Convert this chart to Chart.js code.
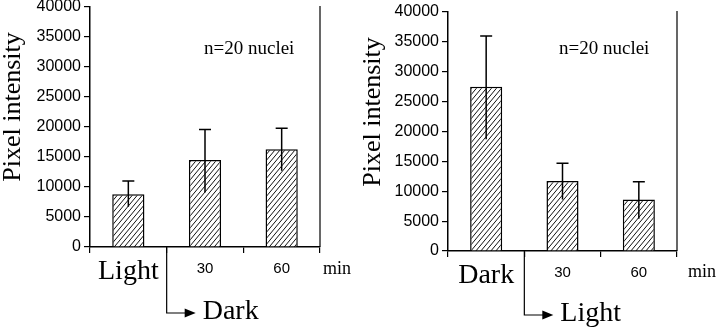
<!DOCTYPE html>
<html>
<head>
<meta charset="utf-8">
<script src="https://cdn.jsdelivr.net/npm/chart.js@4.4.0/dist/chart.umd.min.js"></script>
<style>
  html, body { margin: 0; padding: 0; background: #fff; }
  #wrap { position: relative; width: 720px; height: 331px; }
  .panel { position: absolute; top: 0; width: 360px; height: 331px; }
</style>
</head>
<body>
<div id="wrap">
  <div class="panel" style="left:0"><canvas id="leftChart" width="360" height="331"></canvas></div>
  <div class="panel" style="left:360px"><canvas id="rightChart" width="360" height="331"></canvas></div>
</div>
<script>
//
// Data
//

// Left panel: light, then transfer to dark
var leftLabels = ['Light', '30', '60'];
var leftValues = [8800, 14500, 16300];
var leftErrTop = [11000, 19600, 19800];
var leftErrBottom = [6700, 9100, 12700];
var leftArrowLabel = 'Dark';

// Right panel: dark, then transfer to light
var rightLabels = ['Dark', '30', '60'];
var rightValues = [27500, 11700, 8600];
var rightErrTop = [36000, 14700, 11600];
var rightErrBottom = [18700, 8600, 5400];
var rightArrowLabel = 'Light';

var yMin = 0;
var yMax = 40000;
var yStep = 5000;
var yTitle = 'Pixel intensity';
var noteText = 'n=20 nuclei';
var unitText = 'min';

var serif = '"Liberation Serif", "Times New Roman", serif';
var sans = '"Liberation Sans", Arial, sans-serif';


//
// Methods
//

/**
 * Diagonal hatch fill for the bars
 */
function makeHatch() {
    var c = document.createElement('canvas');
    c.width = 5;
    c.height = 6;
    var g = c.getContext('2d');
    g.fillStyle = '#fff';
    g.fillRect(0, 0, 5, 6);
    g.strokeStyle = '#111';
    g.lineWidth = 1;
    g.beginPath();
    [-5, 0, 5].forEach(function (dx) {
        g.moveTo(dx, 6);
        g.lineTo(dx + 5, 0);
    });
    g.stroke();
    return g.createPattern(c, 'repeat');
}


/**
 * Extra drawing: error bars, frame, titles, arrow
 */
function extrasPlugin(errTop, errBottom, arrowLabel, pos) {
    return {
        id: 'extras',
        afterDatasetsDraw: function (chart) {
            var ctx = chart.ctx;
            var area = chart.chartArea;
            var ys = chart.scales.y;
            var xs = chart.scales.x;
            var meta = chart.getDatasetMeta(0);

            ctx.save();
            ctx.strokeStyle = '#000';
            ctx.fillStyle = '#000';

            // error bars
            ctx.lineWidth = 1.5;
            meta.data.forEach(function (bar, i) {
                var yt = ys.getPixelForValue(errTop[i]);
                var yb = ys.getPixelForValue(errBottom[i]);
                ctx.beginPath();
                ctx.moveTo(bar.x, yb);
                ctx.lineTo(bar.x, yt);
                ctx.moveTo(bar.x - 6, yt);
                ctx.lineTo(bar.x + 6, yt);
                ctx.stroke();
            });

            // right frame line
            ctx.lineWidth = 1.2;
            ctx.beginPath();
            ctx.moveTo(area.right, area.top - 1);
            ctx.lineTo(area.right, area.bottom);
            ctx.stroke();

            // y title
            ctx.save();
            ctx.translate(20, area.top + 100);
            ctx.rotate(-Math.PI / 2);
            ctx.font = '26px ' + serif;
            ctx.textAlign = 'center';
            ctx.textBaseline = 'alphabetic';
            ctx.fillText(yTitle, 0, 0);
            ctx.restore();

            // note
            ctx.font = '19px ' + serif;
            ctx.textAlign = 'left';
            ctx.textBaseline = 'alphabetic';
            ctx.fillText(noteText, area.left + pos.noteDx, pos.noteY);

            // unit
            ctx.font = '18px ' + serif;
            ctx.fillText(unitText, area.right + pos.unitDx, area.bottom + pos.unitDy);

            // arrow from the first category boundary
            var bx = (xs.getPixelForValue(0) + xs.getPixelForValue(1)) / 2;
            var y1 = area.bottom + pos.arrowDrop;
            ctx.lineWidth = 1.2;
            ctx.beginPath();
            ctx.moveTo(bx, area.bottom);
            ctx.lineTo(bx, y1);
            ctx.lineTo(bx + 19, y1);
            ctx.stroke();
            ctx.beginPath();
            ctx.moveTo(bx + 18, y1 - 4.5);
            ctx.lineTo(bx + 29, y1);
            ctx.lineTo(bx + 18, y1 + 4.5);
            ctx.closePath();
            ctx.fill();
            ctx.font = '28px ' + serif;
            ctx.fillText(arrowLabel, bx + 36, y1 + 6);

            ctx.restore();
        }
    };
}


/**
 * Build one bar panel
 */
function renderPanel(canvasId, labels, values, errTop, errBottom, arrowLabel, pos) {
    var ctx = document.querySelector(canvasId).getContext('2d');
    return new Chart(ctx, {
        type: 'bar',
        data: {
            labels: labels,
            datasets: [{
                data: values,
                backgroundColor: makeHatch(),
                borderColor: '#000',
                borderWidth: 1.5,
                categoryPercentage: 1,
                barPercentage: 0.42
            }]
        },
        options: {
            responsive: false,
            animation: false,
            events: [],
            layout: {
                padding: { top: pos.top, right: pos.right, left: 0, bottom: 0 }
            },
            plugins: {
                legend: { display: false },
                tooltip: { enabled: false }
            },
            scales: {
                x: {
                    grid: {
                        offset: true,
                        drawOnChartArea: false,
                        drawTicks: true,
                        tickLength: 6,
                        color: '#000',
                        lineWidth: 1.2
                    },
                    border: { display: true, color: '#000', width: 1.5 },
                    ticks: {
                        color: '#000',
                        padding: 2,
                        maxRotation: 0,
                        autoSkip: false,
                        font: function (c) {
                            if (c.index === 0) {
                                return { family: serif, size: 28, lineHeight: 1.2 };
                            }
                            return { family: sans, size: 15, lineHeight: 1.8 };
                        }
                    },
                    afterFit: function (axis) {
                        axis.height = 331 - pos.bottom;
                        axis.paddingLeft = 0;
                        axis.paddingRight = 0;
                    }
                },
                y: {
                    min: yMin,
                    max: yMax,
                    ticks: {
                        stepSize: yStep,
                        color: '#000',
                        padding: 3,
                        font: { family: sans, size: 16 },
                        callback: function (value) {
                            return String(value);
                        }
                    },
                    grid: {
                        drawOnChartArea: false,
                        tickLength: 6,
                        color: '#000',
                        lineWidth: 1.2
                    },
                    border: { display: true, color: '#000', width: 1.5 },
                    afterFit: function (axis) {
                        axis.width = pos.left;
                        axis.paddingTop = 0;
                        axis.paddingBottom = 0;
                    }
                }
            }
        },
        plugins: [extrasPlugin(errTop, errBottom, arrowLabel, pos)]
    });
}


renderPanel('#leftChart', leftLabels, leftValues, leftErrTop, leftErrBottom, leftArrowLabel,
    { left: 90, top: 7, right: 40, bottom: 247, noteDx: 114, noteY: 54, unitDx: 3, unitDy: 27, arrowDrop: 66 });

renderPanel('#rightChart', rightLabels, rightValues, rightErrTop, rightErrBottom, rightArrowLabel,
    { left: 88, top: 12, right: 43, bottom: 251, noteDx: 111, noteY: 54, unitDx: 11, unitDy: 26, arrowDrop: 64 });
</script>
</body>
</html>
